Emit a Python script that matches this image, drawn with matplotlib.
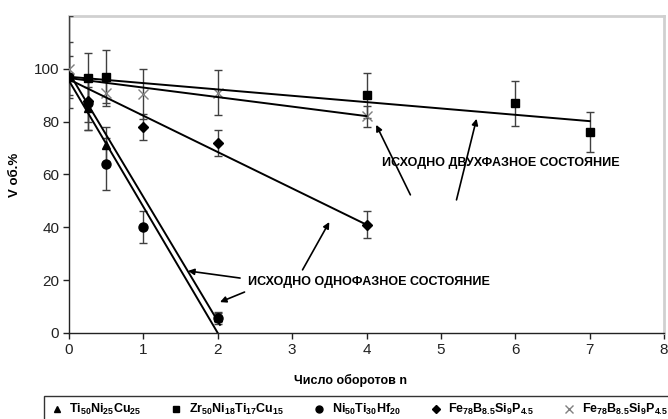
import matplotlib
matplotlib.use("Agg")
import matplotlib.pyplot as plt
import numpy as np
from matplotlib.lines import Line2D

plt.rcParams['font.family'] = ['Liberation Sans', 'DejaVu Sans']
plt.rcParams['mathtext.fontset'] = 'custom'
plt.rcParams['mathtext.rm'] = 'Liberation Sans'
plt.rcParams['mathtext.bf'] = 'Liberation Sans:bold'

# ---- data ----
labels = [r'$\mathbf{Ti_{50}Ni_{25}Cu_{25}}$',
          r'$\mathbf{Zr_{50}Ni_{18}Ti_{17}Cu_{15}}$',
          r'$\mathbf{Ni_{50}Ti_{30}Hf_{20}}$',
          r'$\mathbf{Fe_{78}B_{8.5}Si_{9}P_{4.5}}$',
          r'$\mathbf{Fe_{78}B_{8.5}Si_{9}P_{4.5}}$']

tri_x = [0, 0.25, 0.5, 2]
tri_y = [97, 85, 71, 6]
tri_lo = [12, 8, 7, 2]
tri_hi = [23, 8, 7, 2]

sq_x = [0, 0.25, 0.5, 4, 6, 7]
sq_y = [97, 96.5, 97, 90, 87, 76]
sq_err = [8, 9.5, 10, 8.5, 8.5, 7.5]

ci_x = [0.25, 0.5, 1, 2]
ci_y = [87, 64, 40, 5.5]
ci_err = [10, 10, 6, 2]

di_x = [0.25, 1, 2, 4]
di_y = [88, 78, 72, 41]
di_err = [8, 5, 5, 5]

xx_x = [0, 0.5, 1, 2, 4]
xx_y = [100, 91, 90.5, 91, 82]
xx_err = [10, 5, 9.5, 8.5, 4]

# trend lines: (intercept, slope, x_end)
trend_tri = (95.5, -47.75, 2)
trend_sq = (97, -2.4, 7)
trend_ci = (98.5, -47.0, 2.03)
trend_di = (96, -13.75, 4)
trend_xx = (96.5, -3.6, 4)

xticks = list(range(0, 9))
yticks = [0, 20, 40, 60, 80, 100]

ann_two = 'ИСХОДНО ДВУХФАЗНОЕ СОСТОЯНИЕ'
ann_one = 'ИСХОДНО ОДНОФАЗНОЕ СОСТОЯНИЕ'

# ---- figure ----
fig = plt.figure(figsize=(6.68, 4.19), dpi=100)
ax = fig.add_axes([69/668, 1-333/419, (664-69)/668, (333-16)/419])

ecol = '#404040'
ekw = dict(ecolor=ecol, elinewidth=1.0, capsize=3, capthick=1.0, linestyle='none', zorder=3)

ax.errorbar(tri_x, tri_y, yerr=[tri_lo, tri_hi], marker='^', ms=6, color='black', **ekw)
ax.errorbar(sq_x, sq_y, yerr=sq_err, marker='s', ms=5.5, color='black', **ekw)
ax.errorbar(ci_x, ci_y, yerr=ci_err, marker='o', ms=6.5, color='black', **ekw)
ax.errorbar(di_x, di_y, yerr=di_err, marker='D', ms=5.5, color='black', **ekw)
ax.errorbar(xx_x, xx_y, yerr=xx_err, marker='x', ms=7, mew=1.0, color='#808080', **ekw)

for b, m, xe in [trend_tri, trend_sq, trend_ci, trend_di, trend_xx]:
    xs = np.array([0, xe])
    ax.plot(xs, b + m * xs, color='black', lw=1.4, zorder=4)

ax.set_xlim(0, 8)
ax.set_ylim(0, 120)
ax.set_xticks(xticks)
ax.set_yticks(yticks)
ax.tick_params(direction='out', length=4, width=1, labelsize=11, colors='#222222', pad=3)
for s in ['left', 'bottom']:
    ax.spines[s].set_color('#222222')
    ax.spines[s].set_linewidth(1.0)
for s in ['top', 'right']:
    ax.spines[s].set_color('#d0d0d0')
    ax.spines[s].set_linewidth(2.0)

ax.set_xlabel('Число оборотов n', fontsize=9, fontweight='bold')
ax.xaxis.set_label_coords((350-69)/595, -0.13)
ax.set_ylabel('V об.%', fontsize=9.5, fontweight='bold')
ax.yaxis.set_label_coords(-(69-21)/595, 0.5)

akw = dict(arrowstyle='-|>', color='black', lw=1.2, mutation_scale=9, shrinkA=0, shrinkB=0)
ax.text(4.21, 64.4, ann_two, fontsize=9, fontweight='bold', va='center', ha='left')
ax.annotate('', xy=(4.13, 78.8), xytext=(4.59, 52.3), arrowprops=akw)
ax.annotate('', xy=(5.48, 81.1), xytext=(5.21, 50.4), arrowprops=akw)

ax.text(2.40, 19.3, ann_one, fontsize=9, fontweight='bold', va='center', ha='left')
ax.annotate('', xy=(1.60, 23.5), xytext=(2.30, 20.8), arrowprops=akw)
ax.annotate('', xy=(2.03, 11.7), xytext=(2.36, 15.5), arrowprops=akw)
ax.annotate('', xy=(3.50, 42.0), xytext=(3.14, 23.9), arrowprops=akw)

# legend handles: markers only
lh = [Line2D([], [], ls='none', marker='^', ms=5, color='black'),
      Line2D([], [], ls='none', marker='s', ms=4.5, color='black'),
      Line2D([], [], ls='none', marker='o', ms=5, color='black'),
      Line2D([], [], ls='none', marker='D', ms=4.5, color='black'),
      Line2D([], [], ls='none', marker='x', ms=6, mew=1, color='#808080')]
top = 1 - 396/419
leg = fig.legend(lh, labels, loc='upper left',
                 bbox_to_anchor=(44/668, top - 0.06, (674-44)/668, 0.06),
                 mode='expand', ncol=5, fontsize=9, frameon=True, fancybox=False,
                 edgecolor='black', handlelength=1.0, handletextpad=0.5,
                 columnspacing=0.6, borderpad=0.5, borderaxespad=0)
leg.get_frame().set_linewidth(1.0)

fig.savefig('out.png', dpi=100)
